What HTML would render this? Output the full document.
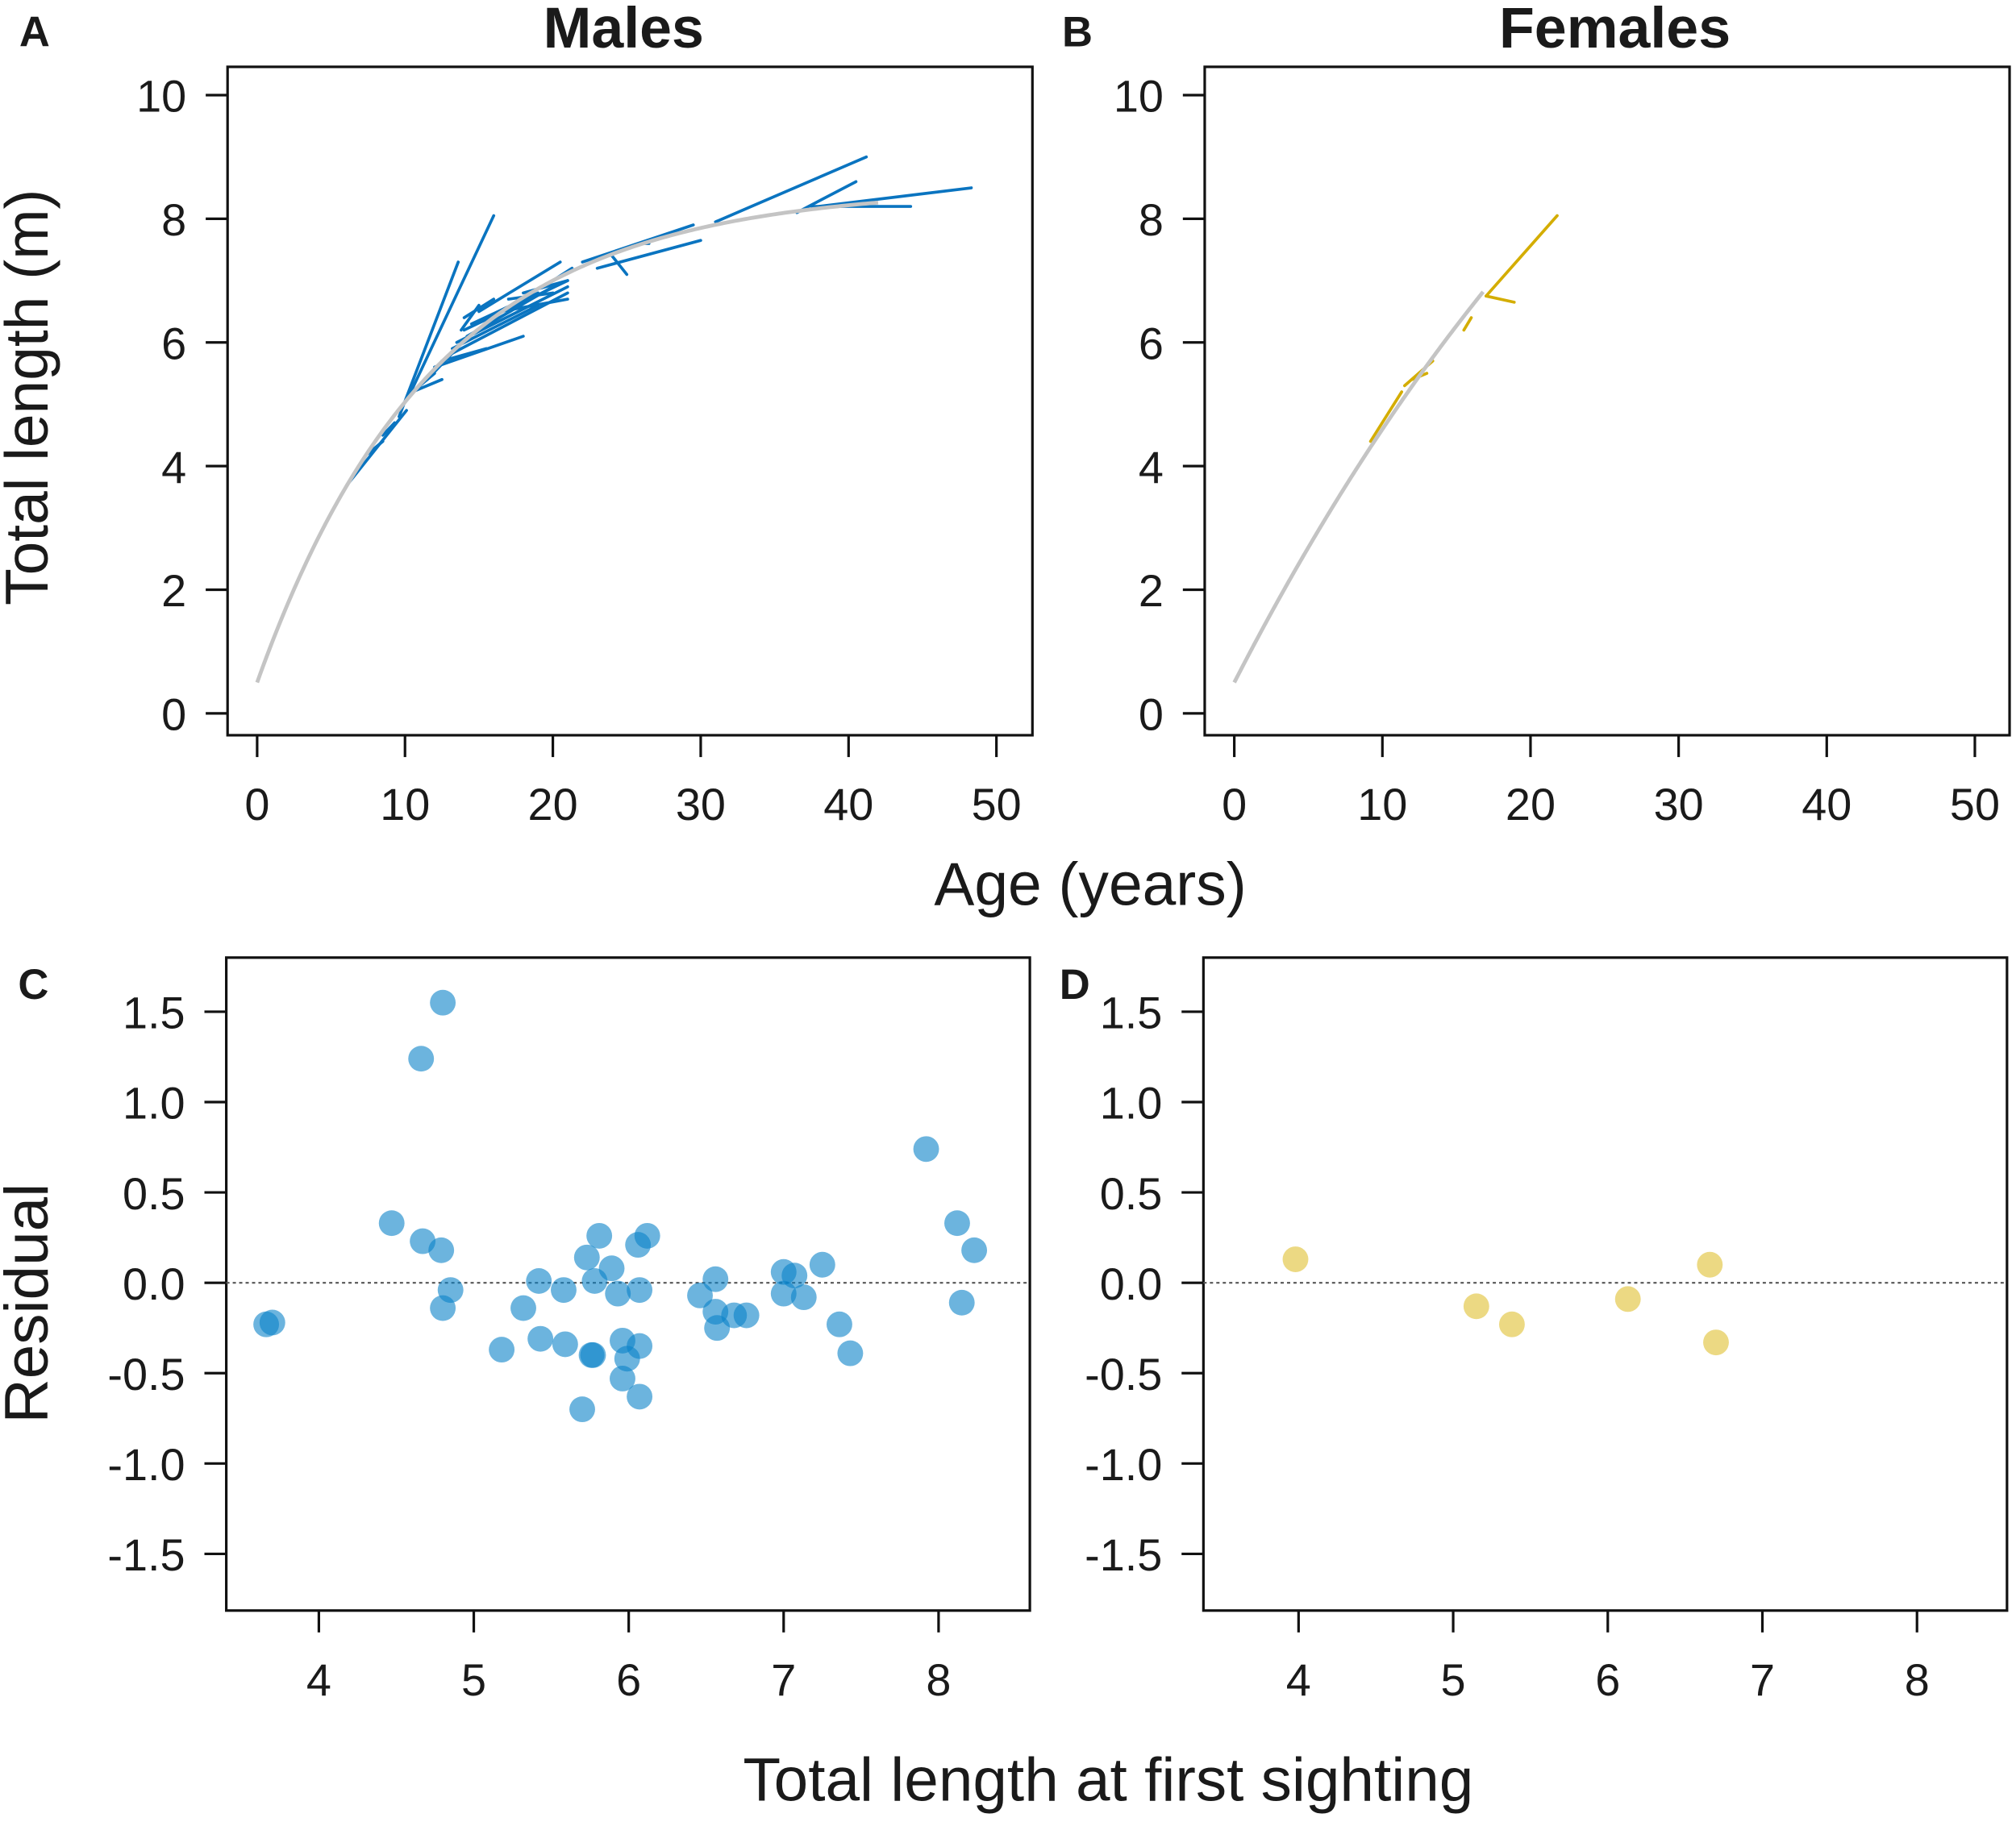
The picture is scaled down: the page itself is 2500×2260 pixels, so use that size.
<!DOCTYPE html>
<html><head><meta charset="utf-8">
<style>
html,body{margin:0;padding:0;background:#fff;}
svg{display:block;}
text{font-family:"Liberation Sans",Arial,sans-serif;fill:#1a1a1a;}
</style></head>
<body>
<svg id="fig" xmlns="http://www.w3.org/2000/svg" width="2500" height="2260" viewBox="0 0 1568 1417.5" preserveAspectRatio="none"></svg>
<script>
// ---- data ----
const maleSegments = [
 [6.1,3.7,10.1,4.9],[9.6,4.8,13.6,7.3],[10.2,5.1,16,8.05],[10.5,5.2,12.5,5.4],
 [8.5,4.5,9.3,4.7],[11.5,5.4,13.5,5.9],[12,5.6,18,6.1],[12.5,5.7,15.5,5.9],
 [13,5.8,21,6.8],[13.2,5.9,19,6.6],[13.5,6.0,21,6.9],[14,6.2,21,7.0],
 [14.2,6.1,20,6.9],[14.5,6.3,19,6.8],[15,6.5,20.5,7.3],[13.8,6.2,15,6.6],
 [14,6.4,16,6.7],[15.5,6.4,18,6.7],[16.5,6.5,21,6.7],[17,6.7,20,6.8],
 [18,6.8,21,7.0],[20,7.0,21.3,7.2],[22,7.3,29.5,7.9],[23,7.2,30,7.65],
 [24,7.4,25,7.1],[26,7.6,26.5,7.6],[31,7.95,41.2,9.0],[36.5,8.1,40.5,8.6],
 [38,8.2,48.3,8.5],[37.5,8.2,44.2,8.2],[7.5,4.2,8.5,4.4],[11,5.3,12,5.5]
];
const maleCurve = {Linf:8.5, L0:0.5, k:0.0837, tmax:42};
const femaleSegments = [
 [9.2,4.4,11.3,5.2],[11.5,5.3,13.4,5.7],[12,5.4,13,5.5],[15.5,6.2,16,6.4],
 [17,6.75,21.8,8.05],[17,6.75,18.9,6.65]
];
const femaleCurve = {Linf:18, L0:0.5, k:0.02666, tmax:16.8};
const maleResX = [3.66,3.70,4.47,4.66,4.80,4.67,4.79,4.80,4.85,5.18,5.32,5.42,5.43,5.58,5.59,5.70,5.73,5.76,5.77,5.78,5.81,5.89,5.93,5.96,5.96,5.99,6.06,6.07,6.07,6.07,6.12,6.46,6.56,6.56,6.57,6.68,6.76,7.00,7.00,7.07,7.13,7.25,7.36,7.43,7.92,8.12,8.15,8.23];
const maleResY = [-0.23,-0.22,0.33,1.24,1.55,0.23,0.18,-0.14,-0.04,-0.37,-0.14,0.01,-0.31,-0.04,-0.34,-0.70,0.14,-0.40,-0.40,0.01,0.26,0.08,-0.06,-0.32,-0.53,-0.42,0.21,-0.63,-0.04,-0.35,0.26,-0.07,0.02,-0.16,-0.25,-0.18,-0.18,0.06,-0.06,0.04,-0.08,0.10,-0.23,-0.39,0.74,0.33,-0.11,0.18];
const femResX = [3.98,5.15,5.38,6.13,6.66,6.70];
const femResY = [0.13,-0.13,-0.23,-0.09,0.10,-0.33];
const ageTicks = [0,10,20,30,40,50];
const lenTicks = [0,2,4,6,8,10];
const resXTicks = [4,5,6,7,8];
const resYTicks = ["-1.5","-1.0","-0.5","0.0","0.5","1.0","1.5"];

const NS="http://www.w3.org/2000/svg";
const svg=document.getElementById('fig');
function el(tag,attrs,parent,txt){const e=document.createElementNS(NS,tag);for(const k in attrs)e.setAttribute(k,attrs[k]);if(txt!==undefined)e.textContent=txt;(parent||svg).appendChild(e);return e;}

function panel(name,box,xs,ys,xticks,yticks){
 const g=el('g',{});
 
 
 const r=el('rect',{x:box.x0,y:box.y0,width:box.x1-box.x0,height:box.y1-box.y0,fill:'none',stroke:'#111','stroke-width':2},g);
 
 
 xticks.forEach(t=>{const x=xs(+t);
  const l=el('line',{x1:x,x2:x,y1:box.y1,y2:box.y1+17,stroke:'#111','stroke-width':2},g);
  
  
  const tx=el('text',{x:x,y:box.y1+66,'font-size':35,'text-anchor':'middle'},g,String(t));
  
  
 });
 yticks.forEach(t=>{const y=ys(+t);
  const l=el('line',{x1:box.x0-17,x2:box.x0,y1:y,y2:y,stroke:'#111','stroke-width':2},g);
  
  
  const tx=el('text',{x:box.x0-32,y:y+13,'font-size':35,'text-anchor':'end'},g,String(t));
  
  
 });
 return g;
}
function growth(g,xs,ys,segs,curve,color,name){
 let d='';
 for(let i=0;i<=200;i++){const t=curve.tmax*i/200;const L=curve.Linf-(curve.Linf-curve.L0)*Math.exp(-curve.k*t);d+=(i?'L':'M')+xs(t).toFixed(2)+','+ys(L).toFixed(2);}
 segs.forEach(s=>{const l=el('line',{x1:xs(s[0]),y1:ys(s[1]),x2:xs(s[2]),y2:ys(s[3]),stroke:color,'stroke-width':2.3,'stroke-linecap':'round'},g);
  
  });
 const p=el('path',{d:d,fill:'none',stroke:'#c4c4c4','stroke-width':3},g);
 
 
}
function resid(g,box,xs,ys,X,Y,color,name){
 const z=el('line',{x1:box.x0,x2:box.x1,y1:ys(0),y2:ys(0),stroke:'#555','stroke-width':1.3,'stroke-dasharray':'2.5,2.5'},g);
 
 
 X.forEach((x,i)=>{const c=el('circle',{cx:xs(x),cy:ys(Y[i]),r:10,fill:color,'fill-opacity':0.6},g);
  
  });
}
const boxA={x0:177,x1:803,y0:52,y1:572};
const xA=v=>200+v*11.5, yL=v=>555-v*48.1;
const gA=panel('panel-a-males',boxA,xA,yL,ageTicks,lenTicks);
growth(gA,xA,yL,maleSegments,maleCurve,'#0a74c0','male');
const boxB={x0:937,x1:1563,y0:52,y1:572};
const xB=v=>960+v*11.52;
const gB=panel('panel-b-females',boxB,xB,yL,ageTicks,lenTicks);
growth(gB,xB,yL,femaleSegments,femaleCurve,'#d4ad00','female');
const boxC={x0:176,x1:801,y0:745,y1:1253};
const xC=v=>248+(v-4)*120.5, yR=v=>998-v*140.6;
const gC=panel('panel-c-male-residuals',boxC,xC,yR,resXTicks,resYTicks);
resid(gC,boxC,xC,yR,maleResX,maleResY,'#0a82c8','male');
const boxD={x0:936,x1:1561,y0:745,y1:1253};
const xD=v=>1010+(v-4)*120.25;
const gD=panel('panel-d-female-residuals',boxD,xD,yR,resXTicks,resYTicks);
resid(gD,boxD,xD,yR,femResX,femResY,'#e0c030','female');

function label(txt,attrs,name){const t=el('text',attrs,svg,txt);}
label('Males',{x:485,y:37,'font-size':45,'font-weight':'bold','text-anchor':'middle'},'title-males');
label('Females',{x:1256,y:37,'font-size':45,'font-weight':'bold','text-anchor':'middle'},'title-females');
label('A',{x:15,y:36,'font-size':33,'font-weight':'bold'},'panel-label-a');
label('B',{x:826,y:36,'font-size':33,'font-weight':'bold'},'panel-label-b');
label('C',{x:14,y:777,'font-size':33,'font-weight':'bold'},'panel-label-c');
label('D',{x:824,y:777,'font-size':33,'font-weight':'bold'},'panel-label-d');
label('Total length (m)',{x:0,y:0,'font-size':47,'text-anchor':'middle',transform:'translate(37,309) rotate(-90)'},'y-axis-title-length');
label('Residual',{x:0,y:0,'font-size':48,'text-anchor':'middle',transform:'translate(37,1014) rotate(-90)'},'y-axis-title-residual');
label('Age (years)',{x:848,y:704,'font-size':47,'text-anchor':'middle'},'x-axis-title-age');
label('Total length at first sighting',{x:862,y:1401,'font-size':48,'text-anchor':'middle'},'x-axis-title-first-sighting');
</script>
</body></html>
